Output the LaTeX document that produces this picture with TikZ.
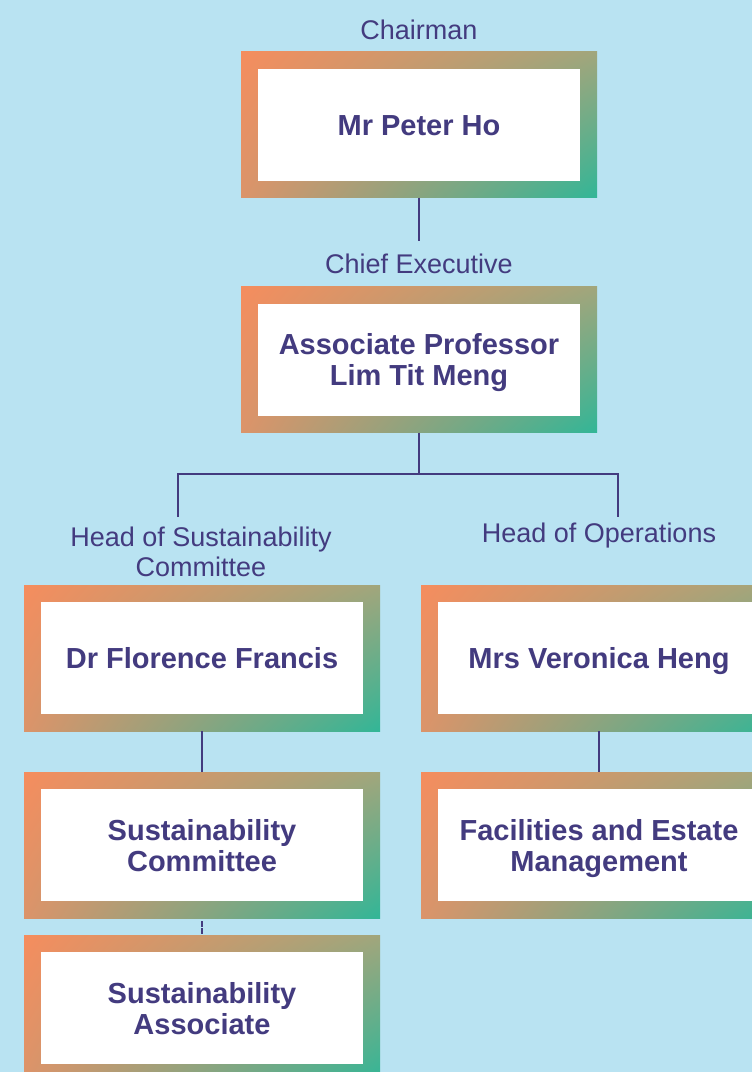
\documentclass[tikz,border=0pt]{standalone}
\usepackage{fontspec}
\setmainfont{Liberation Sans}
\usepackage{xcolor}
\definecolor{sky}{HTML}{B9E3F2}
\definecolor{ink}{HTML}{433B7F}
\definecolor{peach}{HTML}{F58D5E}
\definecolor{olive}{HTML}{A1A67C}
\definecolor{clay}{HTML}{DB946A}
\definecolor{jade}{HTML}{32B697}
\usetikzlibrary{positioning,calc,shadings}
\tikzset{
  person/.style ={upper left=peach,upper right=olive,lower left=clay,lower right=jade,
                  minimum width=356pt,minimum height=146pt,inner sep=0pt,
                  text height=21pt,text depth=0pt,
                  text=ink,align=center,font=\fontsize{29}{31}\selectfont\bfseries,
                  path picture={\fill[white]
                    ([shift={(17pt,17pt)}]path picture bounding box.south west) rectangle
                    ([shift={(-17pt,-17pt)}]path picture bounding box.north east);}},
  twoline/.style={text height=52pt},
  lbl/.style    ={text=ink,align=center,inner xsep=0pt,inner ysep=13pt,
                  text height=19.5pt,text depth=0pt,
                  font=\fontsize{27}{30}\selectfont},
  link/.style   ={draw=ink,line width=2.5pt},
}

\begin{document}
\begin{tikzpicture}[x=1pt,y=-1pt]
\fill[sky] (0,0) rectangle (752,1072);
\useasboundingbox (0,0) rectangle (752,1072);
\clip (0,0) rectangle (752,1072);
%======================= TOP: CHAIRMAN AND CEO ==================
\node[lbl] (chairlbl) at (419,30) {Chairman};
\node[person] (chair) at (419,124.5) {Mr Peter Ho};
\node[lbl] (ceolbl) at (419,264) {Chief Executive};
\node[person,twoline] (ceo) at (419,359.5) {Associate Professor\\Lim Tit Meng};
\draw[link] (chair.south) -- (ceolbl.north);
\coordinate (split) at (419,474);
\coordinate (lftdrop) at (178,517);
\coordinate (rgtdrop) at (618,517);
\draw[link] (ceo.south) -- (split);
\draw[link] (lftdrop) |- (split) -| (rgtdrop);
%======================= LEFT: SUSTAINABILITY ===================
\node[lbl,text height=49.5pt] (hsclbl) at (201,552) {Head of Sustainability\\Committee};
\node[person] (hsc) at (202,658) {Dr Florence Francis};
\node[person,twoline] (scm) at (202,845) {Sustainability\\Committee};
\node[person,twoline] (sca) at (202,1008) {Sustainability\\Associate};
\draw[link] (hsc.south) -- (scm.north);
\draw[link,dash pattern=on 5.5pt off 1.5pt,shorten <=3pt] (scm.south) -- (sca.north);
%======================= RIGHT: OPERATIONS ======================
\node[lbl] (hopslbl) at (599,533) {Head of Operations};
\node[person] (hops) at (599,658) {Mrs Veronica Heng};
\node[person,twoline] (fem) at (599,845) {Facilities and Estate\\Management};
\draw[link] (hops.south) -- (fem.north);
\end{tikzpicture}
\end{document}
